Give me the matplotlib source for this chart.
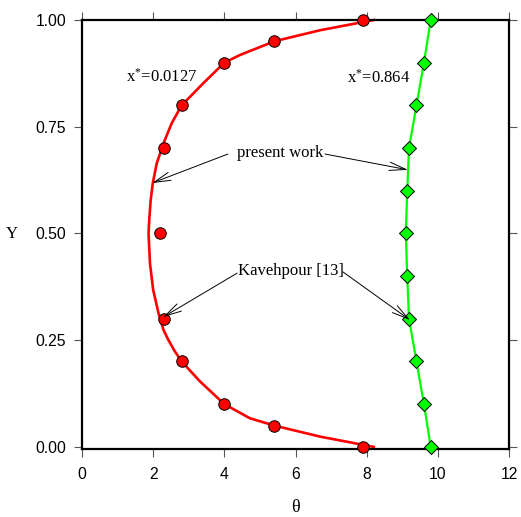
import matplotlib
matplotlib.use('Agg')
import matplotlib.pyplot as plt

plt.rcParams['mathtext.fontset'] = 'custom'
plt.rcParams['mathtext.rm'] = 'Liberation Serif'
plt.rcParams['mathtext.default'] = 'regular'

# red: x* = 0.0127
red_pts_y = [0.0, 0.05, 0.1, 0.2, 0.3, 0.5, 0.7, 0.8, 0.9, 0.95, 1.0]
red_pts_theta = [7.9, 5.4, 4.0, 2.8, 2.3, 2.2, 2.3, 2.8, 4.0, 5.4, 7.9]
red_line_y = [0.0, 0.024, 0.05, 0.067, 0.1, 0.153, 0.2, 0.225, 0.25, 0.274, 0.313, 0.368,
              0.43, 0.5, 0.532, 0.578, 0.618, 0.664, 0.711, 0.758, 0.8, 0.852, 0.9,
              0.918, 0.95, 0.976, 1.0]
red_line_theta = [8.2, 6.69, 5.4, 4.72, 4.0, 3.32, 2.8, 2.6, 2.43, 2.29, 2.15, 2.0,
                  1.91, 1.87, 1.89, 1.93, 1.99, 2.1, 2.29, 2.52, 2.8, 3.41, 4.0,
                  4.44, 5.4, 6.69, 8.2]

# green: x* = 0.864
green_y = [0.0, 0.1, 0.2, 0.3, 0.4, 0.5, 0.6, 0.7, 0.8, 0.9, 1.0]
green_theta = [9.8, 9.61, 9.4, 9.19, 9.14, 9.1, 9.14, 9.19, 9.4, 9.61, 9.8]

fig = plt.figure(figsize=(5.21, 5.17), dpi=100)
ax = fig.add_axes([82/521, 1-449/517, 427/521, 429/517])

ax.plot(red_line_theta, red_line_y, color='#ff0000', lw=1.9, zorder=2, clip_on=False)
ax.plot(green_theta, green_y, color='#00ff00', lw=1.6, zorder=2, clip_on=False)
ax.plot(red_pts_theta, red_pts_y, 'o', ms=8.3, mfc='#ff0000', mec='black', mew=0.7,
        zorder=3, clip_on=False)
ax.plot(green_theta, green_y, 'D', ms=6.8, mfc='#00ff00', mec='black', mew=0.7,
        zorder=3, clip_on=False)

ax.set_xlim(0, 12)
ax.set_ylim(-0.005, 1.0)
ax.set_xticks([0, 2, 4, 6, 8, 10, 12])
ax.set_yticks([0, 0.25, 0.5, 0.75, 1.0])
ax.set_yticklabels(['0.00', '0.25', '0.50', '0.75', '1.00'])
ax.tick_params(direction='out', length=5.8, width=0.8, color='#555555',
               top=True, right=True, labelsize=11.3)
ax.tick_params(axis='x', pad=7)
ax.tick_params(axis='y', pad=5.5)
for lab in ax.get_xticklabels() + ax.get_yticklabels():
    lab.set_family('Liberation Sans')
for s in ax.spines.values():
    s.set_linewidth(1.6)

ax.set_xlabel('θ', family='Liberation Serif', fontsize=13, va='center')
ax.xaxis.set_label_coords(0.5, -58/429)
ax.set_ylabel('Y', family='Liberation Serif', fontsize=12, rotation=0,
              va='center', ha='center')
ax.yaxis.set_label_coords(-70/427, 0.5)

serif = dict(family='Liberation Serif', fontsize=12)
ax.text(2.25, 0.866, 'x$^{*}$=0.0127', ha='center', va='center', **serif)
ax.text(8.35, 0.864, 'x$^{*}$=0.864', ha='center', va='center', **serif)

arw = dict(arrowstyle='->, head_length=1.2, head_width=0.3', color='black', lw=0.7,
           shrinkA=0, shrinkB=0)
ax.text(5.57, 0.689, 'present work', ha='center', va='center', **serif)
ax.annotate('', xy=(1.97, 0.618), xytext=(4.1, 0.686), arrowprops=arw)
ax.annotate('', xy=(9.16, 0.649), xytext=(6.83, 0.686), arrowprops=arw)

ax.text(5.87, 0.412, 'Kavehpour [13]', ha='center', va='center', **serif)
ax.annotate('', xy=(2.28, 0.304), xytext=(4.36, 0.407), arrowprops=arw)
ax.annotate('', xy=(9.22, 0.297), xytext=(7.33, 0.41), arrowprops=arw)

fig.savefig('out.png', dpi=100)
